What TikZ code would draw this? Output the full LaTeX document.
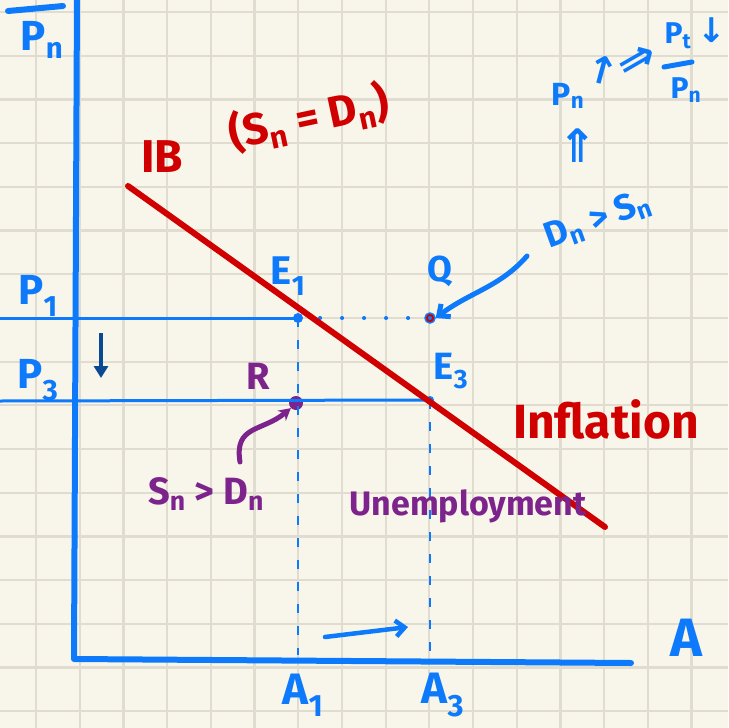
\documentclass[tikz,border=0pt]{standalone}
\usepackage{fontspec}
\setmainfont{Fira Sans}
\newfontfamily\symf{DejaVu Sans}
\usetikzlibrary{arrows.meta}
\definecolor{paper}{RGB}{248,245,234}
\definecolor{gridc}{RGB}{224,221,208}
\definecolor{pblue}{RGB}{12,122,250}
\definecolor{pred}{RGB}{208,0,0}
\definecolor{ppurple}{RGB}{125,35,140}
\definecolor{dblue}{RGB}{10,74,148}
\newcommand\sbs[1]{\textsubscript{#1}}
\begin{document}
\begin{tikzpicture}[x=1pt,y=-1pt,
  gridline/.style={gridc,line width=2.2pt},
  axis/.style={pblue,line width=6pt,line cap=round,line join=round},
  pline/.style={pblue,line width=3pt},
  vdash/.style={pblue,line width=2.8pt,dash pattern=on 9pt off 13pt},
  hdot/.style={pblue,line width=4pt,dash pattern=on 0.1pt off 21.9pt,line cap=round},
  ibline/.style={pred,line width=6pt,line cap=round},
  hand/.style={inner sep=0pt,font=\bfseries\fontsize{#1}{#1}\selectfont},
  dot/.style={circle,inner sep=0pt,minimum size=#1},
  barb/.style={-{Straight Barb[length=9pt,width=16pt]}},
]
\fill[paper] (0,0) rectangle (728,728);
\useasboundingbox (0,0) rectangle (728,728);
% grid
\foreach \i in {0,...,15} \draw[gridline] ({36+43.7*\i},0) -- ({36+43.7*\i},728);
\foreach \j in {0,...,16} \draw[gridline] (0,{12+43.7*\j}) -- (728,{12+43.7*\j});

% axes
\coordinate (ytop) at (77,-5);
\coordinate (orig) at (74,659);
\coordinate (xend) at (631,663);
\draw[axis] (ytop) -- (orig) -- (xend);
\coordinate (barL) at (8,11);
\coordinate (barR) at (63,6);
\draw[axis] (barL) -- (barR);
\node[hand=42,text=pblue] (ylab) at (42,40) {P\sbs{n}};

% price lines
\node[dot=10pt,fill=pblue] (E1) at (298,318) {};
\node[dot=8pt,fill=pblue] (E3) at (430,400) {};
\node[dot=10pt,fill=pred,draw=pblue,line width=1.5pt] (Q) at (430,318) {};
\node[dot=14pt,fill=ppurple] (R) at (296,403) {};
\coordinate (p1l) at (0,318);
\coordinate (p3l) at (0,401);
\draw[pline] (p1l) -- (E1.center);
\draw[pline] (p3l) -- (E3.center);
\draw[hdot] (E1.center) -- (Q.center);
\coordinate (a1b) at (298,655);
\coordinate (a3b) at (430,652);
\draw[vdash] (E1.center) -- (a1b);
\draw[vdash] (E3.center) -- (a3b);

% IB line
\coordinate (ibs) at (128,186);
\coordinate (ibe) at (605,527);
\draw[ibline] (ibs) -- (ibe);

% labels
\node[hand=42,text=pblue] (p1) at (38,296) {P\sbs{1}};
\node[hand=42,text=pblue] (p3) at (38,380) {P\sbs{3}};
\node[hand=40,text=pblue] (e1lab) at (288,276) {E\sbs{1}};
\node[hand=36,text=pblue] (qlab) at (440,271) {Q};
\node[hand=38,text=pblue] (e3lab) at (451,371) {E\sbs{3}};
\node[hand=38,text=ppurple] (rlab) at (258,376) {R};
\node[hand=38,text=ppurple] (snd) at (206,494) {S\sbs{n} > D\sbs{n}};
\node[hand=34,text=ppurple,anchor=base] (unemp) at (468,515) {Unemployment};
\node[hand=48,text=pred,anchor=base] (infl) at (606,438) {Inflation};
\node[hand=46,text=pred,anchor=base] (ib) at (162,172) {IB};
\node[hand=44,text=pred,rotate=12] (sdeq) at (309,118) {(S\sbs{n} = D\sbs{n})};
\node[hand=36,text=pblue,rotate=20] (dgs) at (598,220) {D\sbs{n} > S\sbs{n}};

% top right note
\node[hand=32,text=pblue] (pnup) at (568,96) {P\sbs{n}};
\node[hand=38,text=pblue,rotate=-15] (uparr) at (602,70) {\symf ↑};
\node[hand=46,text=pblue] (dblup) at (578,146) {\symf ⇑};
\node[hand=46,text=pblue,rotate=30] (impl) at (638,62) {\symf ⇒};
\node[hand=30,text=pblue] (ptlab) at (678,36) {P\sbs{t}};
\coordinate (fbarL) at (664,67);
\coordinate (fbarR) at (692,62);
\draw[pblue,line width=5pt,line cap=round] (fbarL) -- (fbarR);
\node[hand=30,text=pblue] (pnlab2) at (686,90) {P\sbs{n}};
\node[hand=34,text=pblue] (downarr) at (712,30) {\symf ↓};

% arrows
\coordinate (qstart) at (527,256);
\draw[pblue,line width=5pt,line cap=round,barb] (qstart) .. controls (500,287) and (470,292) .. (Q.east);
\coordinate (rstart) at (240,462);
\draw[ppurple,line width=5pt,line cap=round,-{Stealth[length=12pt,width=13pt]}] (rstart) .. controls (234,425) and (262,432) .. (R.south west);
\coordinate (da1) at (101,333);
\coordinate (da2) at (101,378);
\draw[dblue,line width=3.5pt,-{Triangle[length=12pt,width=14pt]}] (da1) -- (da2);
\coordinate (ba1) at (325,637);
\coordinate (ba2) at (408,627);
\draw[pblue,line width=4.5pt,line cap=round,barb] (ba1) -- (ba2);

% x labels
\node[hand=44,text=pblue] (a1lab) at (303,695) {A\sbs{1}};
\node[hand=44,text=pblue] (a3lab) at (443,695) {A\sbs{3}};
\node[hand=54,text=pblue] (alab) at (686,638) {A};
\end{tikzpicture}
\end{document}
